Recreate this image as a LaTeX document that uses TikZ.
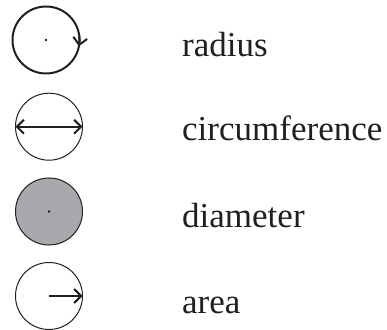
\documentclass[tikz,border=0pt]{standalone}
\usepackage{fontspec}
\setmainfont{Liberation Serif}
\usepackage{tikz}
\usetikzlibrary{arrows.meta,positioning}
\definecolor{discgray}{HTML}{A7A9AC}
\definecolor{ringink}{HTML}{231F20}

\begin{document}
\begin{tikzpicture}[
  x=1pt,y=1pt,
  ring/.style={draw=ringink,circle,minimum size=67pt,inner sep=0pt,
    outer sep=0pt,line width=1pt},
  pointer/.style={draw=ringink,line width=2pt,
    -{Straight Barb[length=7pt,width=14pt,line width=2pt]}},
  dot/.style={fill=ringink,circle,inner sep=0pt,minimum size=2.8pt},
  word/.style={font=\fontsize{35}{40}\selectfont,text=ringink,
    anchor=base west,inner sep=0pt}
]
  \useasboundingbox (0,0) rectangle (387,329);

  % symbols
  \node[ring,line width=2pt] (rad) at (46,289) {};
  \node[ring] (circ) at (49,202.3) {};
  \node[ring,fill=discgray] (diam) at (49,117.5) {};
  \node[ring] (area) at (49,33) {};

  \node[dot] at (rad.center) {};
  \node[dot] at (diam.center) {};
  \draw[pointer,shorten >=-1pt] (rad.12) arc[start angle=12,end angle=-9,radius=33.5];
  \draw[pointer,{Straight Barb[length=7pt,width=14pt,line width=2pt]}-{Straight Barb[length=7pt,width=14pt,line width=2pt]}]
    (circ.west) -- (circ.east);
  \draw[pointer] (area.center) -- (area.east);

  % labels
  \node[word] (radtxt) at ([xshift=136pt,yshift=-17pt]rad.center) {radius};
  \node[word] (circtxt) at ([xshift=133pt,yshift=-14pt]circ.center) {circumference};
  \node[word] (diamtxt) at ([xshift=133pt,yshift=-15.5pt]diam.center) {diameter};
  \node[word] (areatxt) at ([xshift=133pt,yshift=-17pt]area.center) {area};
\end{tikzpicture}
\end{document}
